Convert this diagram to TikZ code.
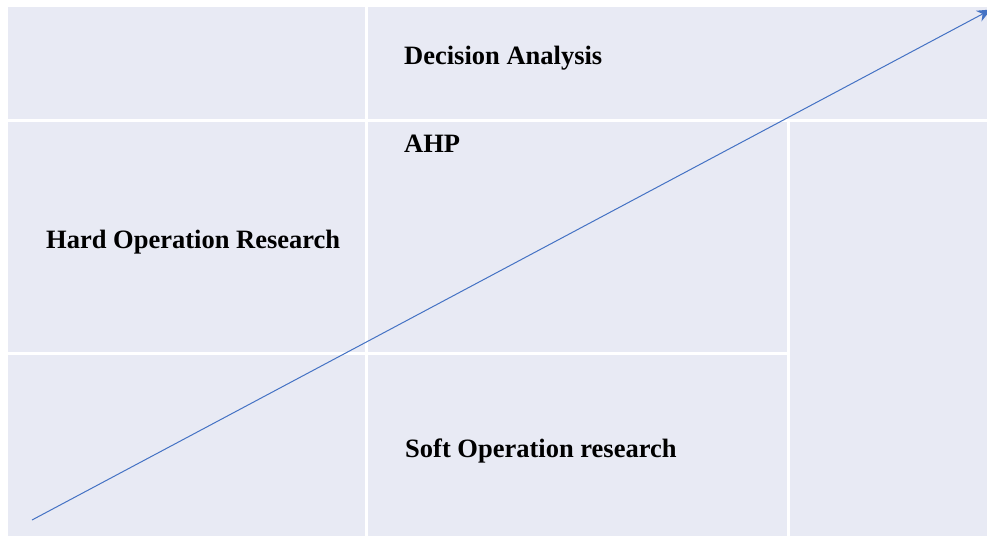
\documentclass[tikz,border=0pt]{standalone}
\usepackage{fontspec}
\setmainfont{Liberation Serif}
\usepackage{tikz}
\usepackage{xcolor}
\usetikzlibrary{arrows.meta}
\definecolor{panel}{HTML}{E8EAF4}
\definecolor{axisblue}{HTML}{4472C4}
\tikzset{lbl/.style={anchor=base west,inner sep=0pt,font=\fontsize{26.5}{30}\selectfont\bfseries}}

\begin{document}
\begin{tikzpicture}[x=1pt,y=-1pt]
\useasboundingbox(0,0)rectangle(987,536);
\clip(0,0)rectangle(987,536);
\fill[white](0,0)rectangle(987,536);
\fill[panel](8,7)rectangle(987,536);
\draw[white,line width=3pt](366,7)--(366,536);
\draw[white,line width=3pt](8,120)--(987,120);
\draw[white,line width=3pt](8,353)--(788,353);
\draw[white,line width=3pt](788,120)--(788,536);
\draw(404,64)node[lbl](da){Decision Analysis}
(404,152)node[lbl](ahp){AHP}
(46,248)node[lbl](hor){Hard Operation Research}
(405,457)node[lbl](sor){Soft Operation research};
\coordinate(lo)at(32,520);
\coordinate(hi)at(991,9.5);
\draw[axisblue,line width=1pt,-{Stealth[length=14pt,width=12pt]}](lo)--(hi);
\end{tikzpicture}
\end{document}
